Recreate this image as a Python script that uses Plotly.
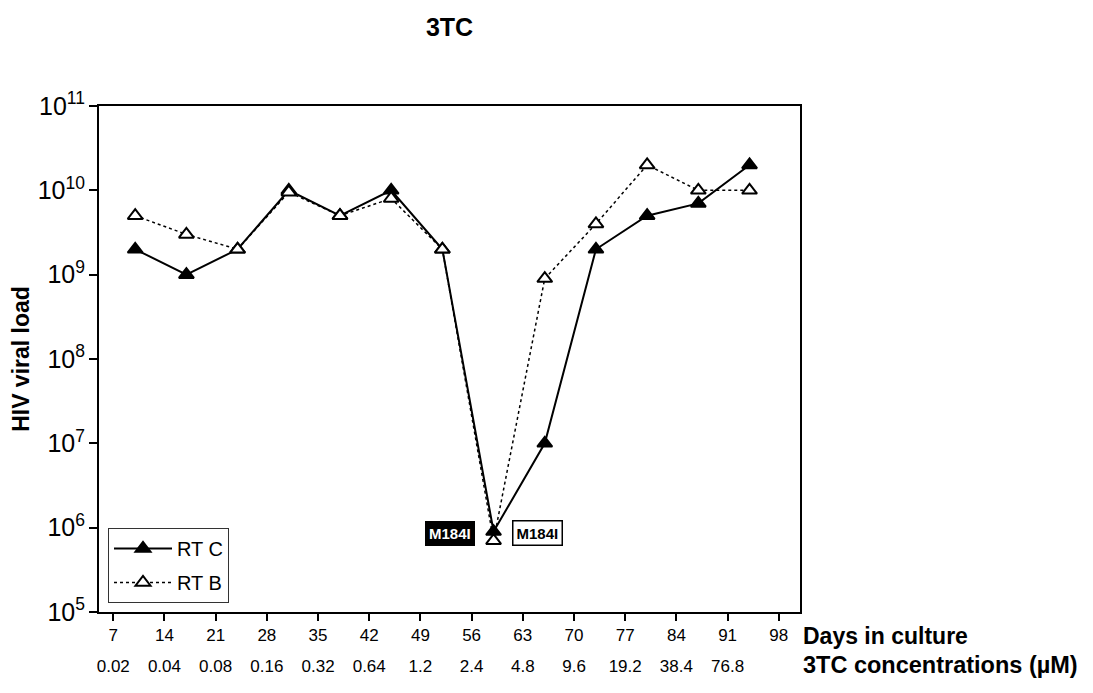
import math
import plotly.graph_objects as go

days = [10, 17, 24, 31, 38, 45, 52, 59, 66, 73, 80, 87, 94]
rt_c = [2e9, 1e9, 2e9, 1e10, 5e9, 1e10, 2e9, 9e5, 1e7, 2e9, 5e9, 7e9, 2e10]
rt_b = [5e9, 3e9, 2e9, 9.5e9, 5e9, 8e9, 2e9, 7e5, 9e8, 4e9, 2e10, 1e10, 1e10]

day_ticks = [7, 14, 21, 28, 35, 42, 49, 56, 63, 70, 77, 84, 91, 98]
conc_ticks = [7, 14, 21, 28, 35, 42, 49, 56, 63, 70, 77, 84, 91]
conc_labels = ["0.02", "0.04", "0.08", "0.16", "0.32", "0.64", "1.2", "2.4",
               "4.8", "9.6", "19.2", "38.4", "76.8"]

mut_day = 59
mut_load = 8.6e5
mut_label = "M184I"

FONT = "Arial, Liberation Sans, sans-serif"

# page body adds an 8px offset; compensate in the figure size/margins
W, H = 1085, 685
ML, MT, PW, PH = 91, 98, 701, 506

fig = go.Figure()
fig.add_trace(go.Scatter(
    x=days, y=rt_c, name="RT C", mode="lines+markers", legendgroup="c",
    line=dict(color="black", width=2),
    marker=dict(symbol="triangle-up", size=13, color="black",
                line=dict(color="black", width=2)),
))
fig.add_trace(go.Scatter(
    x=days, y=rt_b, name="RT B", mode="lines+markers", legendgroup="b",
    line=dict(color="black", width=1.5, dash="dot"),
    marker=dict(symbol="triangle-up", size=13, color="white",
                line=dict(color="black", width=2)),
))
# invisible trace to carry the second x axis (concentrations)
fig.add_trace(go.Scatter(x=[days[0]], y=[rt_c[0]], xaxis="x2", mode="markers",
                         marker=dict(opacity=0), showlegend=False, hoverinfo="skip"))

fig.update_layout(
    width=W, height=H,
    margin=dict(l=ML, r=W - ML - PW, t=MT, b=H - MT - PH, autoexpand=False),
    paper_bgcolor="white", plot_bgcolor="white",
    font=dict(family=FONT, color="black", size=17),
    title=dict(text="<b>3TC</b>", x=0.5, xref="paper", xanchor="center",
               y=1 - 19 / H, yref="container", yanchor="middle",
               font=dict(size=25, family=FONT)),
    xaxis=dict(range=[5.05, 100.9], tickvals=day_ticks,
               ticktext=[str(d) for d in day_ticks],
               ticks="outside", ticklen=7, tickwidth=1.5, tickcolor="black",
               showline=True, linecolor="black", linewidth=2, mirror=True,
               showgrid=False, zeroline=False, tickfont=dict(size=17)),
    xaxis2=dict(range=[5.05, 100.9], overlaying="x", anchor="y", side="bottom",
                tickvals=conc_ticks, ticktext=conc_labels, ticks="",
                showline=False, showgrid=False, zeroline=False,
                ticklabelstandoff=42, tickfont=dict(size=17)),
    yaxis=dict(type="log", range=[5, 11], dtick=1, exponentformat="power",
               ticks="outside", ticklen=8, tickwidth=1.5, tickcolor="black",
               showline=True, linecolor="black", linewidth=2, mirror=True,
               showgrid=False, zeroline=False, tickfont=dict(size=20),
               title=dict(text="<b>HIV viral load</b>", font=dict(size=23),
                          standoff=9)),
    legend=dict(x=(108 - 99) / PW, y=(612 - 603) / PH, xanchor="left",
                yanchor="bottom",
                bgcolor="white", bordercolor="#333", borderwidth=1,
                font=dict(size=20), tracegroupgap=5, itemwidth=58),
    showlegend=True,
    annotations=[
        dict(x=mut_day, y=math.log10(mut_load), xref="x", yref="y",
             yanchor="middle", xanchor="right", xshift=-19,
             text="<b>" + mut_label + "</b>", showarrow=False,
             font=dict(size=15, color="white"), bgcolor="black",
             bordercolor="black", borderwidth=1, borderpad=3),
        dict(x=mut_day, y=math.log10(mut_load), xref="x", yref="y",
             yanchor="middle", xanchor="left", xshift=18,
             text="<b>" + mut_label + "</b>", showarrow=False,
             font=dict(size=15, color="black"), bgcolor="white",
             bordercolor="black", borderwidth=1.5, borderpad=3),
        dict(x=1.0, y=(612 - 636) / PH, xref="paper", yref="paper",
             xanchor="left", yanchor="middle", xshift=1,
             text="<b>Days in culture</b>", showarrow=False,
             font=dict(size=23)),
        dict(x=1.0, y=(612 - 665) / PH, xref="paper", yref="paper",
             xanchor="left", yanchor="middle", xshift=1,
             text="<b>3TC concentrations (µM)</b>", showarrow=False,
             font=dict(size=23.5)),
    ],
)

fig.write_html("out.html")
